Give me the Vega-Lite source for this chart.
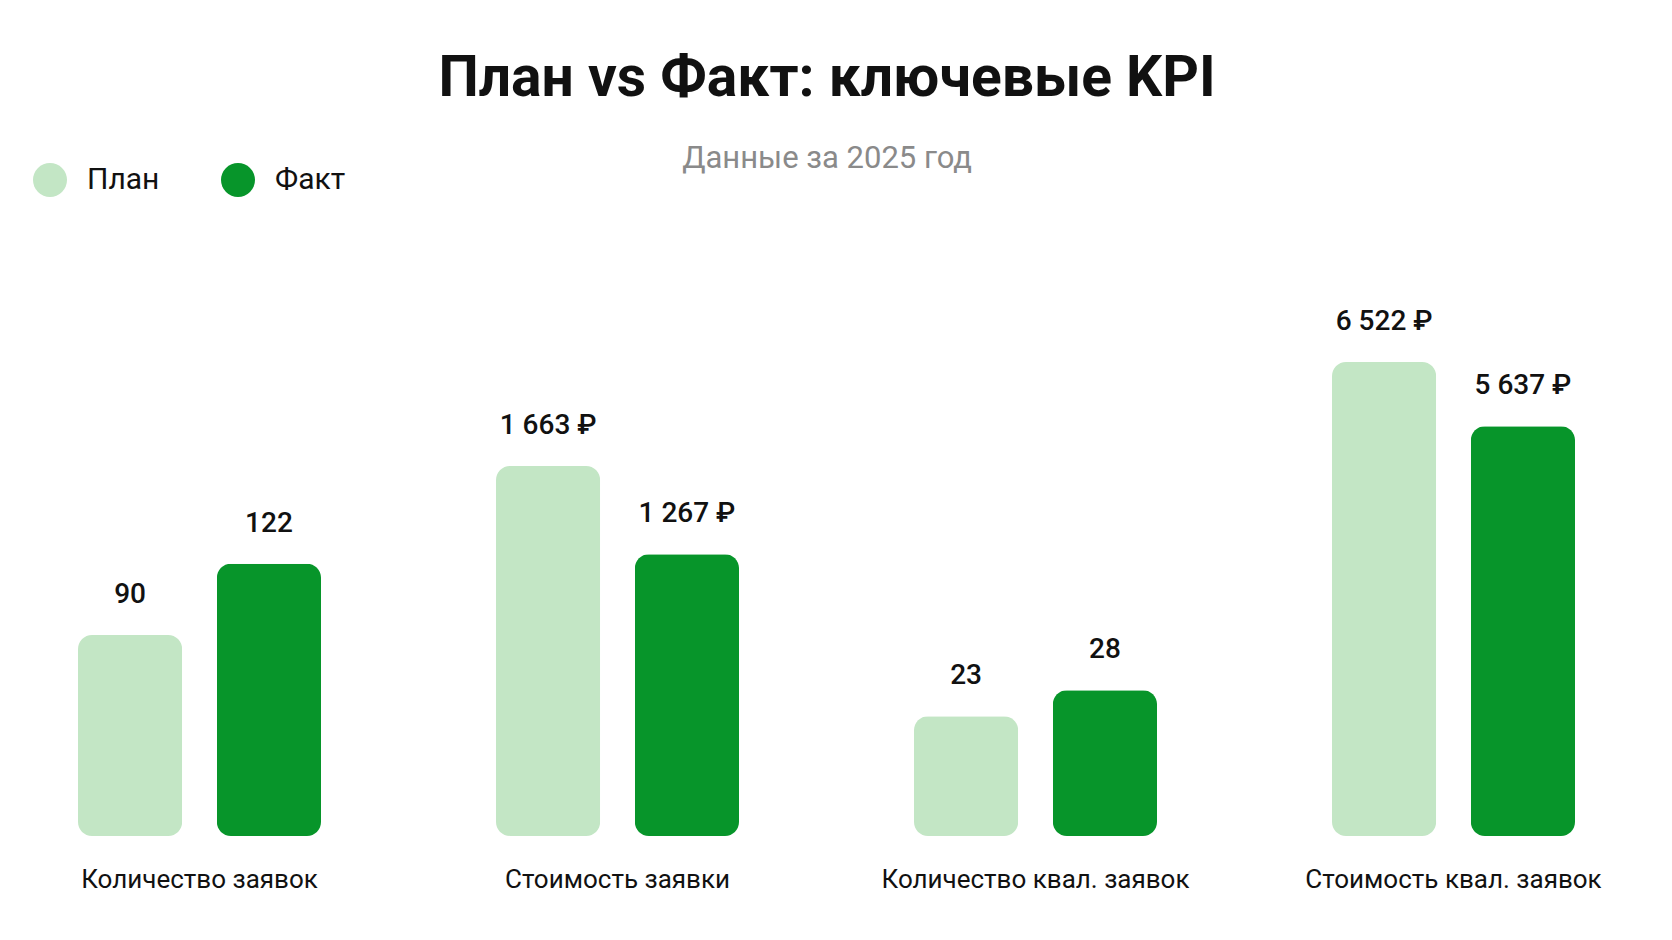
{
  "$schema": "https://vega.github.io/schema/vega-lite/v6.json",
  "background": "#ffffff",
  "padding": {"left": 33, "top": 50, "right": 20, "bottom": 20},
  "bounds": "flush",
  "spacing": 175,
  "title": {
    "text": "План vs Факт: ключевые KPI",
    "subtitle": "Данные за 2025 год",
    "anchor": "middle",
    "frame": "bounds",
    "offset": -12,
    "dx": 10,
    "font": "Roboto",
    "fontSize": 57,
    "fontWeight": "bold",
    "color": "#111111",
    "subtitleFont": "Roboto",
    "subtitleFontSize": 31,
    "subtitleColor": "#8a8a8a",
    "subtitlePadding": 36
  },
  "data": {
    "values": [
      {"kpi": "Количество заявок", "series": "План", "value": 90, "label": "90"},
      {"kpi": "Количество заявок", "series": "Факт", "value": 122, "label": "122"},
      {"kpi": "Стоимость заявки", "series": "План", "value": 1663, "label": "1 663 ₽"},
      {"kpi": "Стоимость заявки", "series": "Факт", "value": 1267, "label": "1 267 ₽"},
      {"kpi": "Количество квал. заявок", "series": "План", "value": 23, "label": "23"},
      {"kpi": "Количество квал. заявок", "series": "Факт", "value": 28, "label": "28"},
      {"kpi": "Стоимость квал. заявок", "series": "План", "value": 6522, "label": "6 522 ₽"},
      {"kpi": "Стоимость квал. заявок", "series": "Факт", "value": 5637, "label": "5 637 ₽"}
    ]
  },
  "hconcat": [
    {
      "width": 243, "height": 500,
      "transform": [{"filter": "datum.kpi === 'Количество заявок'"}],
      "encoding": {
        "x": {"field": "kpi", "type": "nominal", "scale": {"paddingInner": 0, "paddingOuter": 0},
              "axis": {"title": null, "domain": false, "ticks": false, "labelAngle": 0, "labelFontSize": 26, "labelPadding": 30, "labelLimit": 0, "labelColor": "#111111", "labelFont": "Roboto"}},
        "xOffset": {"field": "series", "type": "nominal", "sort": ["План", "Факт"], "scale": {"paddingInner": 0.25, "paddingOuter": 0}},
        "y": {"field": "value", "type": "quantitative", "scale": {"domain": [0, 224]}, "axis": null}
      },
      "layer": [
        {"mark": {"type": "bar", "cornerRadius": 14},
         "encoding": {"color": {"field": "series", "type": "nominal", "sort": ["План", "Факт"],
           "scale": {"domain": ["План", "Факт"], "range": ["#c3e6c5", "#07952a"]},
           "legend": {"orient": "none", "legendX": -45, "legendY": -173, "direction": "horizontal", "title": null, "symbolType": "circle", "symbolSize": 1156, "symbolStrokeWidth": 0, "symbolOpacity": 1, "labelFontSize": 30, "labelFont": "Roboto", "labelColor": "#111111", "labelOffset": 20, "columnPadding": 61}}}},
        {"mark": {"type": "text", "dy": -40, "fontSize": 28, "fontWeight": 500, "font": "Roboto", "color": "#111111"},
         "encoding": {"text": {"field": "label"}}}
      ]
    },
    {
      "width": 243, "height": 500,
      "transform": [{"filter": "datum.kpi === 'Стоимость заявки'"}],
      "encoding": {
        "x": {"field": "kpi", "type": "nominal", "scale": {"paddingInner": 0, "paddingOuter": 0},
              "axis": {"title": null, "domain": false, "ticks": false, "labelAngle": 0, "labelFontSize": 26, "labelPadding": 30, "labelLimit": 0, "labelColor": "#111111", "labelFont": "Roboto"}},
        "xOffset": {"field": "series", "type": "nominal", "sort": ["План", "Факт"], "scale": {"paddingInner": 0.25, "paddingOuter": 0}},
        "y": {"field": "value", "type": "quantitative", "scale": {"domain": [0, 2248]}, "axis": null}
      },
      "layer": [
        {"mark": {"type": "bar", "cornerRadius": 14},
         "encoding": {"color": {"field": "series", "type": "nominal", "sort": ["План", "Факт"],
           "scale": {"domain": ["План", "Факт"], "range": ["#c3e6c5", "#07952a"]},
           "legend": {"orient": "none", "legendX": -45, "legendY": -173, "direction": "horizontal", "title": null, "symbolType": "circle", "symbolSize": 1156, "symbolStrokeWidth": 0, "symbolOpacity": 1, "labelFontSize": 30, "labelFont": "Roboto", "labelColor": "#111111", "labelOffset": 20, "columnPadding": 61}}}},
        {"mark": {"type": "text", "dy": -40, "fontSize": 28, "fontWeight": 500, "font": "Roboto", "color": "#111111"},
         "encoding": {"text": {"field": "label"}}}
      ]
    },
    {
      "width": 243, "height": 500,
      "transform": [{"filter": "datum.kpi === 'Количество квал. заявок'"}],
      "encoding": {
        "x": {"field": "kpi", "type": "nominal", "scale": {"paddingInner": 0, "paddingOuter": 0},
              "axis": {"title": null, "domain": false, "ticks": false, "labelAngle": 0, "labelFontSize": 26, "labelPadding": 30, "labelLimit": 0, "labelColor": "#111111", "labelFont": "Roboto"}},
        "xOffset": {"field": "series", "type": "nominal", "sort": ["План", "Факт"], "scale": {"paddingInner": 0.25, "paddingOuter": 0}},
        "y": {"field": "value", "type": "quantitative", "scale": {"domain": [0, 96]}, "axis": null}
      },
      "layer": [
        {"mark": {"type": "bar", "cornerRadius": 14},
         "encoding": {"color": {"field": "series", "type": "nominal", "sort": ["План", "Факт"],
           "scale": {"domain": ["План", "Факт"], "range": ["#c3e6c5", "#07952a"]},
           "legend": {"orient": "none", "legendX": -45, "legendY": -173, "direction": "horizontal", "title": null, "symbolType": "circle", "symbolSize": 1156, "symbolStrokeWidth": 0, "symbolOpacity": 1, "labelFontSize": 30, "labelFont": "Roboto", "labelColor": "#111111", "labelOffset": 20, "columnPadding": 61}}}},
        {"mark": {"type": "text", "dy": -40, "fontSize": 28, "fontWeight": 500, "font": "Roboto", "color": "#111111"},
         "encoding": {"text": {"field": "label"}}}
      ]
    },
    {
      "width": 243, "height": 500,
      "transform": [{"filter": "datum.kpi === 'Стоимость квал. заявок'"}],
      "encoding": {
        "x": {"field": "kpi", "type": "nominal", "scale": {"paddingInner": 0, "paddingOuter": 0},
              "axis": {"title": null, "domain": false, "ticks": false, "labelAngle": 0, "labelFontSize": 26, "labelPadding": 30, "labelLimit": 0, "labelColor": "#111111", "labelFont": "Roboto"}},
        "xOffset": {"field": "series", "type": "nominal", "sort": ["План", "Факт"], "scale": {"paddingInner": 0.25, "paddingOuter": 0}},
        "y": {"field": "value", "type": "quantitative", "scale": {"domain": [0, 6880]}, "axis": null}
      },
      "layer": [
        {"mark": {"type": "bar", "cornerRadius": 14},
         "encoding": {"color": {"field": "series", "type": "nominal", "sort": ["План", "Факт"],
           "scale": {"domain": ["План", "Факт"], "range": ["#c3e6c5", "#07952a"]},
           "legend": {"orient": "none", "legendX": -45, "legendY": -173, "direction": "horizontal", "title": null, "symbolType": "circle", "symbolSize": 1156, "symbolStrokeWidth": 0, "symbolOpacity": 1, "labelFontSize": 30, "labelFont": "Roboto", "labelColor": "#111111", "labelOffset": 20, "columnPadding": 61}}}},
        {"mark": {"type": "text", "dy": -40, "fontSize": 28, "fontWeight": 500, "font": "Roboto", "color": "#111111"},
         "encoding": {"text": {"field": "label"}}}
      ]
    }
  ],
  "config": {
    "view": {"stroke": null},
    "font": "Roboto"
  }
}
